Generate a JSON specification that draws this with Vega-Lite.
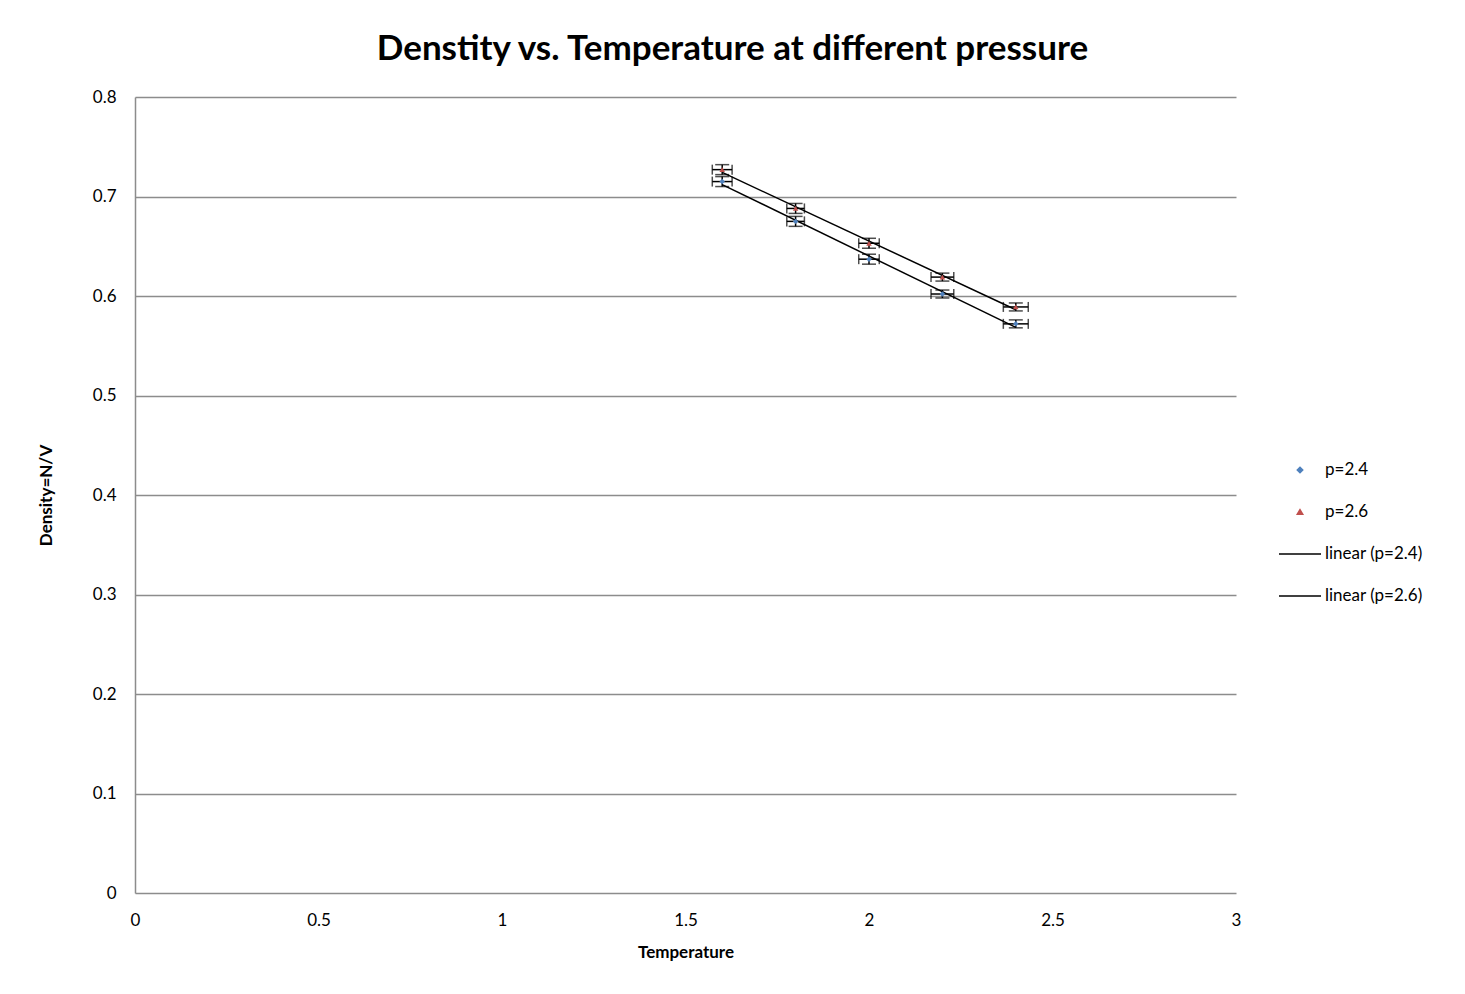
{
  "$schema": "https://vega.github.io/schema/vega-lite/v6.json",
  "width": 1101,
  "height": 796,
  "autosize": {"type": "none"},
  "padding": {"left": 135, "top": 97, "right": 229, "bottom": 101},
  "background": "white",
  "title": {
    "text": "Denstity vs. Temperature at different pressure",
    "fontSize": 35,
    "font": "Lato",
    "fontWeight": "bold",
    "color": "black",
    "anchor": "middle",
    "dx": 47,
    "offset": 21
  },
  "data": {
    "values": [
      {"T": 1.6, "rho": 0.715, "ex": 0.027, "ey": 0.005, "p": "p=2.4", "fit": "linear (p=2.4)"},
      {"T": 1.8, "rho": 0.675, "ex": 0.024, "ey": 0.005, "p": "p=2.4", "fit": "linear (p=2.4)"},
      {"T": 2.0, "rho": 0.637, "ex": 0.028, "ey": 0.005, "p": "p=2.4", "fit": "linear (p=2.4)"},
      {"T": 2.2, "rho": 0.602, "ex": 0.031, "ey": 0.004, "p": "p=2.4", "fit": "linear (p=2.4)"},
      {"T": 2.4, "rho": 0.572, "ex": 0.034, "ey": 0.004, "p": "p=2.4", "fit": "linear (p=2.4)"},
      {"T": 1.6, "rho": 0.727, "ex": 0.027, "ey": 0.005, "p": "p=2.6", "fit": "linear (p=2.6)"},
      {"T": 1.8, "rho": 0.688, "ex": 0.024, "ey": 0.005, "p": "p=2.6", "fit": "linear (p=2.6)"},
      {"T": 2.0, "rho": 0.653, "ex": 0.028, "ey": 0.005, "p": "p=2.6", "fit": "linear (p=2.6)"},
      {"T": 2.2, "rho": 0.619, "ex": 0.031, "ey": 0.004, "p": "p=2.6", "fit": "linear (p=2.6)"},
      {"T": 2.4, "rho": 0.589, "ex": 0.034, "ey": 0.004, "p": "p=2.6", "fit": "linear (p=2.6)"}
    ]
  },
  "layer": [
    {
      "transform": [{"regression": "rho", "on": "T", "groupby": ["fit"]}],
      "mark": {"type": "line", "strokeWidth": 1.5},
      "encoding": {
        "x": {"field": "T", "type": "quantitative", "title": "Temperature"},
        "y": {"field": "rho", "type": "quantitative", "title": "Density=N/V"},
        "color": {
          "field": "fit",
          "type": "nominal",
          "legend": {
            "title": null,
            "orient": "none",
            "legendX": 1143,
            "legendY": 351,
            "symbolSize": 1764,
            "labelOffset": 3,
            "rowPadding": 12,
            "labelFontSize": 17,
            "labelFont": "Lato",
            "labelColor": "black",
            "encode": {
              "symbols": {
                "update": {
                  "shape": {"signal": "datum.value == 'p=2.4' ? 'diamond' : datum.value == 'p=2.6' ? 'triangle-up' : 'stroke'"},
                  "size": {"signal": "datum.value == 'p=2.4' || datum.value == 'p=2.6' ? 30 : 1764"},
                  "fill": {"signal": "datum.value == 'p=2.4' ? '#4f81bd' : datum.value == 'p=2.6' ? '#c0504d' : 'transparent'"},
                  "stroke": {"signal": "datum.value == 'p=2.4' || datum.value == 'p=2.6' ? 'transparent' : 'black'"},
                  "strokeWidth": {"value": 1.5},
                  "opacity": {"value": 1}
                }
              }
            }
          }
        }
      }
    },
    {
      "mark": {"type": "errorbar", "color": "black", "thickness": 1.5, "ticks": {"size": 14, "color": "black", "thickness": 1.5}},
      "encoding": {
        "x": {"field": "T", "type": "quantitative", "title": "Temperature"},
        "y": {"field": "rho", "type": "quantitative", "title": "Density=N/V"},
        "yError": {"field": "ey"}
      }
    },
    {
      "mark": {"type": "errorbar", "color": "black", "thickness": 1.5, "ticks": {"size": 10, "color": "black", "thickness": 1.5}},
      "encoding": {
        "y": {"field": "rho", "type": "quantitative", "title": "Density=N/V"},
        "x": {"field": "T", "type": "quantitative", "title": "Temperature"},
        "xError": {"field": "ex"}
      }
    },
    {
      "mark": {"type": "point", "filled": true, "opacity": 1},
      "encoding": {
        "x": {
          "field": "T",
          "type": "quantitative",
          "title": "Temperature",
          "scale": {"domain": [0, 3], "nice": false},
          "axis": {
            "values": [0, 0.5, 1, 1.5, 2, 2.5, 3],
            "format": "~g",
            "grid": false,
            "ticks": false,
            "domain": false,
            "labelFlush": false,
            "labelPadding": 19,
            "titleY": 59,
            "titleBaseline": "middle"
          }
        },
        "y": {
          "field": "rho",
          "type": "quantitative",
          "title": "Density=N/V",
          "scale": {"domain": [0, 0.8], "nice": false},
          "axis": {
            "values": [0, 0.1, 0.2, 0.3, 0.4, 0.5, 0.6, 0.7, 0.8],
            "format": "~g",
            "grid": true,
            "ticks": false,
            "domain": true,
            "labelFlush": false,
            "labelPadding": 19,
            "titleX": -89,
            "titleY": 398,
            "titleAngle": 270,
            "titleBaseline": "middle"
          }
        },
        "color": {
          "field": "p",
          "type": "nominal",
          "scale": {
            "domain": ["p=2.4", "p=2.6", "linear (p=2.4)", "linear (p=2.6)"],
            "range": ["#4f81bd", "#c0504d", "black", "black"]
          },
          "legend": {
            "title": null,
            "orient": "none",
            "legendX": 1143,
            "legendY": 351,
            "symbolSize": 1764,
            "labelOffset": 3,
            "rowPadding": 12,
            "labelFontSize": 17,
            "labelFont": "Lato",
            "labelColor": "black",
            "encode": {
              "symbols": {
                "update": {
                  "shape": {"signal": "datum.value == 'p=2.4' ? 'diamond' : datum.value == 'p=2.6' ? 'triangle-up' : 'stroke'"},
                  "size": {"signal": "datum.value == 'p=2.4' || datum.value == 'p=2.6' ? 30 : 1764"},
                  "fill": {"signal": "datum.value == 'p=2.4' ? '#4f81bd' : datum.value == 'p=2.6' ? '#c0504d' : 'transparent'"},
                  "stroke": {"signal": "datum.value == 'p=2.4' || datum.value == 'p=2.6' ? 'transparent' : 'black'"},
                  "strokeWidth": {"value": 1.5},
                  "opacity": {"value": 1}
                }
              }
            }
          }
        },
        "shape": {
          "field": "p",
          "type": "nominal",
          "scale": {"domain": ["p=2.4", "p=2.6"], "range": ["diamond", "triangle-up"]},
          "legend": null
        },
        "size": {"value": 30}
      }
    }
  ],
  "config": {
    "view": {"stroke": null},
    "font": "Lato",
    "axis": {
      "labelFont": "Lato",
      "labelFontSize": 17,
      "labelColor": "black",
      "titleFont": "Lato",
      "titleFontSize": 17,
      "titleFontWeight": "bold",
      "titleColor": "black",
      "gridColor": "#8c8c8c",
      "gridWidth": 1.5,
      "gridOpacity": 1,
      "domainColor": "#8c8c8c",
      "domainWidth": 1.5
    }
  }
}
